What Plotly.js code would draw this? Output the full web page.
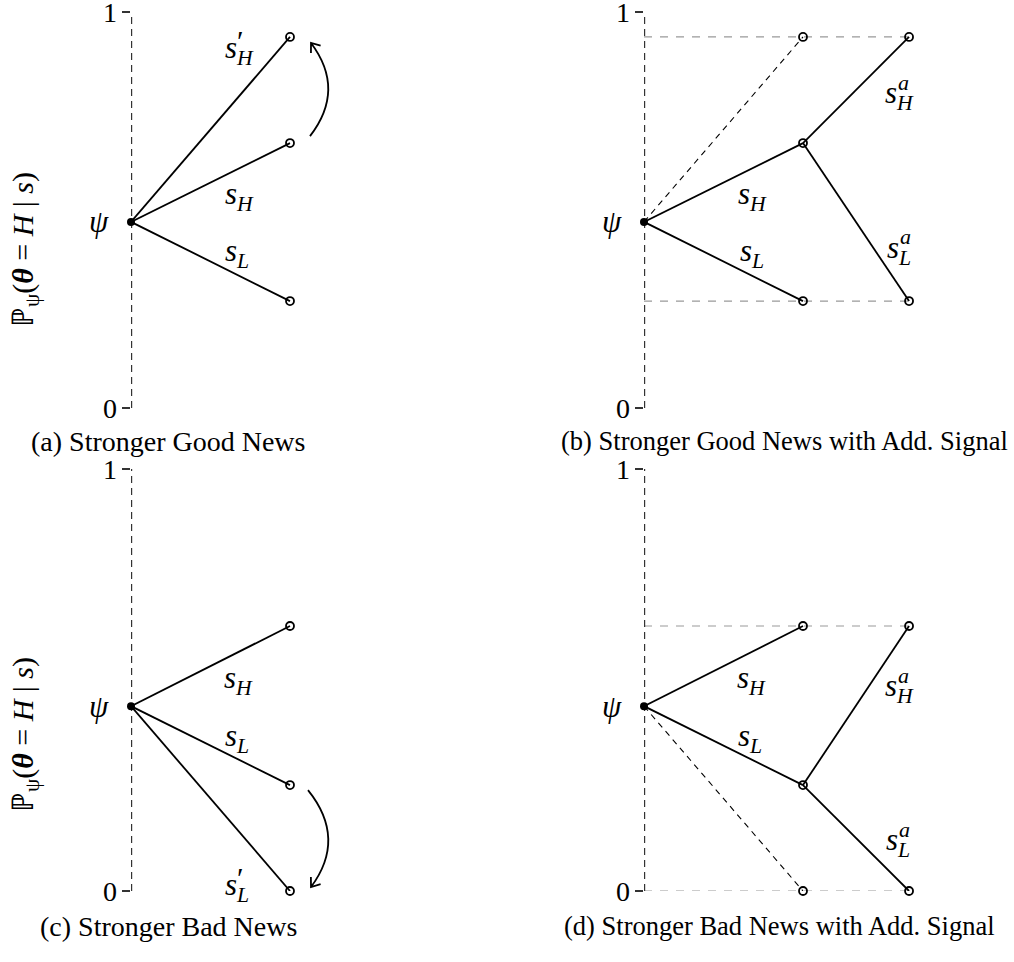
<!DOCTYPE html>
<html>
<head>
<meta charset="utf-8">
<script src="https://cdn.plot.ly/plotly-3.0.1.min.js"></script>
<style>html,body{margin:0;padding:0;background:#fff;}#chart{width:1014px;height:962px;}</style>
</head>
<body>
<div id="chart"></div>
<script>
// ---------- data ----------
const stages = [0, 1, 1.667];            // signal stages (prior, first signal, additional signal)
const priorTop = 0.47;                   // ψ in panels (a),(b)
const priorBottom = 0.438;               // ψ in panels (c),(d)
const aPosteriors = [0.937, 0.669, 0.27]; // s'_H, s_H, s_L
const bFirst = [0.669, 0.27];             // s_H, s_L
const bSecond = [0.937, 0.27];            // s^a_H, s^a_L after s_H
const bDashedTarget = 0.937;
const cPosteriors = [0.628, 0.251, 0];    // s_H, s_L, s'_L
const dFirst = [0.628, 0.251];            // s_H, s_L
const dSecond = [0.628, 0];               // s^a_H, s^a_L after s_L
const dDashedTarget = 0;
const tickValues = [0, 1];
const tickLabels = ['0', '1'];
const captions = ['(a) Stronger Good News', '(b) Stronger Good News with Add. Signal',
                  '(c) Stronger Bad News', '(d) Stronger Bad News with Add. Signal'];
const yTitle = 'ℙ<sub>ψ</sub>(<b><i>θ</i></b>&nbsp;=&nbsp;<i>H</i>&nbsp;|&nbsp;<i>s</i>)';

// ---------- layout helpers ----------
const W = 1014, H = 962;
const FONT = 'Liberation Serif, Times New Roman, serif';
const AXC = '#333';
const pxX = 159;                   // px per x unit
const pxYTop = 396, pxYBot = 422;  // px per y unit

const traces = [];
function line(ax, xs, ys, opts) {
  traces.push(Object.assign({
    type: 'scatter', mode: 'lines', x: xs, y: ys, xaxis: 'x' + ax, yaxis: 'y' + ax,
    line: {color: '#000', width: 1.8}, hoverinfo: 'skip', cliponaxis: false
  }, opts || {}));
}
function nodes(ax, xs, ys, filled) {
  traces.push({
    type: 'scatter', mode: 'markers', x: xs, y: ys, xaxis: 'x' + ax, yaxis: 'y' + ax,
    marker: filled ? {symbol: 'circle', size: 8, color: '#000'}
                   : {symbol: 'circle-open', size: 8, color: '#000', line: {width: 1.8, color: '#000'}},
    hoverinfo: 'skip', cliponaxis: false
  });
}
function axisLine(ax) {
  line(ax, [0, 0], [0, 1], {line: {color: AXC, width: 2.4, dash: '7px,5px'}});
}
function guide(ax, y, xEnd) {
  line(ax, [0, xEnd], [y, y], {line: {color: '#999', width: 1.2, dash: '8px,8px'}});
}
function dashedDiag(ax, y0, y1) {
  line(ax, [0, 1], [y0, y1], {line: {color: '#000', width: 1.1, dash: '6px,5px'}});
}

// ---------- panel (a) ----------
axisLine('');
aPosteriors.forEach(v => line('', [stages[0], stages[1]], [priorTop, v]));
nodes('', aPosteriors.map(() => stages[1]), aPosteriors, false);
nodes('', [stages[0]], [priorTop], true);

// ---------- panel (b) ----------
guide('2', bSecond[0], stages[2]);
guide('2', bSecond[1], stages[2]);
axisLine('2');
dashedDiag('2', priorTop, bDashedTarget);
bFirst.forEach(v => line('2', [stages[0], stages[1]], [priorTop, v]));
bSecond.forEach(v => line('2', [stages[1], stages[2]], [bFirst[0], v]));
nodes('2', [stages[1], stages[1], stages[1], stages[2], stages[2]],
           [bDashedTarget, bFirst[0], bFirst[1], bSecond[0], bSecond[1]], false);
nodes('2', [stages[0]], [priorTop], true);

// ---------- panel (c) ----------
axisLine('3');
cPosteriors.forEach(v => line('3', [stages[0], stages[1]], [priorBottom, v]));
nodes('3', cPosteriors.map(() => stages[1]), cPosteriors, false);
nodes('3', [stages[0]], [priorBottom], true);

// ---------- panel (d) ----------
guide('4', dSecond[0], stages[2]);
guide('4', dSecond[1], stages[2]);
axisLine('4');
dashedDiag('4', priorBottom, dDashedTarget);
dFirst.forEach(v => line('4', [stages[0], stages[1]], [priorBottom, v]));
dSecond.forEach(v => line('4', [stages[1], stages[2]], [dFirst[1], v]));
nodes('4', [stages[1], stages[1], stages[1], stages[2], stages[2]],
           [dFirst[0], dFirst[1], dDashedTarget, dSecond[0], dSecond[1]], false);
nodes('4', [stages[0]], [priorBottom], true);

// ---------- axes ----------
function xa(l) { return {domain: [l / W, (l + 2 * pxX) / W], range: [0, 2], showgrid: false, zeroline: false,
  showticklabels: false, ticks: '', showline: false, fixedrange: true}; }
function ya(top, bot) { return {domain: [1 - bot / H, 1 - top / H], range: [0, 1], showgrid: false, zeroline: false,
  showline: false, tickvals: tickValues, showticklabels: false, ticks: 'outside', ticklen: 8, tickwidth: 1.8,
  tickcolor: AXC, fixedrange: true}; }

const layout = {
  width: W, height: H, margin: {l: 0, r: 0, t: 0, b: 0},
  paper_bgcolor: '#fff', plot_bgcolor: 'rgba(0,0,0,0)', showlegend: false,
  xaxis: Object.assign(xa(131), {anchor: 'y'}),
  xaxis2: Object.assign(xa(644), {anchor: 'y2'}),
  xaxis3: Object.assign(xa(131), {anchor: 'y3'}),
  xaxis4: Object.assign(xa(644), {anchor: 'y4'}),
  yaxis: Object.assign(ya(12, 408), {anchor: 'x'}),
  yaxis2: Object.assign(ya(12, 408), {anchor: 'x2'}),
  yaxis3: Object.assign(ya(469, 891), {anchor: 'x3'}),
  yaxis4: Object.assign(ya(469, 891), {anchor: 'x4'}),
  annotations: [], shapes: []
};

// ---------- text ----------
function label(ax, x, y, sub, sup, supShift) {
  layout.annotations.push({xref: 'x' + ax, yref: 'y' + ax, x: x, y: y, xanchor: 'left', yanchor: 'middle',
    showarrow: false, text: '<i>s</i><sub><i>' + sub + '</i></sub>', font: {family: FONT, size: 31, color: '#000'}});
  if (sup) layout.annotations.push({xref: 'x' + ax, yref: 'y' + ax, x: x, y: y, xanchor: 'left', yanchor: 'middle',
    xshift: supShift[0], yshift: supShift[1], showarrow: false, text: sup, font: {family: FONT, size: sup === '′' ? 30 : 22, color: '#000'}});
}
function yLabel(ax, y, text, shift) {
  layout.annotations.push({xref: 'x' + ax, yref: 'y' + ax, x: 0, y: y, xanchor: 'center', yanchor: 'middle',
    xshift: shift, showarrow: false, text: text, font: {family: FONT, size: shift < -25 ? 31 : 28, color: '#000'}});
}
function paperText(px, py, text, angle, size) {
  layout.annotations.push({xref: 'paper', yref: 'paper', x: px / W, y: 1 - py / H, xanchor: 'center', yanchor: 'middle',
    showarrow: false, text: text, textangle: angle || 0, font: {family: FONT, size: size || 27, color: '#000'}});
}

['', '2', '3', '4'].forEach(ax => tickValues.forEach((v, i) => yLabel(ax, v, tickLabels[i], -21)));

const primeShift = [12, 9], aShift = [13, 13];
// panel a
label('', 0.58, 0.905, 'H', '′', primeShift);
label('', 0.58, 0.535, 'H');
label('', 0.58, 0.392, 'L');
yLabel('', priorTop, '<i>ψ</i>', -32);
// panel b
label('2', 0.58, 0.535, 'H');
label('2', 0.59, 0.392, 'L');
label('2', 1.5, 0.79, 'H', '<i>a</i>', aShift);
label('2', 1.515, 0.40, 'L', '<i>a</i>', aShift);
yLabel('2', priorTop, '<i>ψ</i>', -32);
// panel c
label('3', 0.575, 0.50, 'H');
label('3', 0.58, 0.362, 'L');
label('3', 0.58, 0.01, 'L', '′', primeShift);
yLabel('3', priorBottom, '<i>ψ</i>', -32);
// panel d
label('4', 0.57, 0.50, 'H');
label('4', 0.58, 0.362, 'L');
label('4', 1.505, 0.48, 'H', '<i>a</i>', aShift);
label('4', 1.51, 0.115, 'L', '<i>a</i>', aShift);
yLabel('4', priorBottom, '<i>ψ</i>', -32);

paperText(168, 441, captions[0], 0, 28);
paperText(784, 441, captions[1], 0, 26.5);
paperText(168, 926, captions[2], 0, 28);
paperText(779, 926, captions[3], 0, 26.5);
paperText(25, 250, yTitle, -90, 30);
paperText(25, 735, yTitle, -90, 30);

// ---------- curved arrows ----------
function curvedArrow(ax, pyUnit, fromY, toY, startOff, endOff, bulge) {
  const dx = p => p / pxX, dy = p => p / pyUnit;
  const x0 = stages[1] + dx(startOff[0]), y0 = fromY + dy(startOff[1]);
  const x1 = stages[1] + dx(endOff[0]), y1 = toY + dy(endOff[1]);
  const cx = stages[1] + dx(bulge), cy = (y0 + y1) / 2;
  let tx = (x1 - cx) * pxX, ty = (y1 - cy) * pyUnit;
  const n = Math.hypot(tx, ty); tx /= n; ty /= n;
  const L = 10, ang = 0.65;
  const b = s => {
    const c = Math.cos(s * ang), si = Math.sin(s * ang);
    const rx = -(tx * c - ty * si), ry = -(tx * si + ty * c);
    return [x1 + rx * L / pxX, y1 + ry * L / pyUnit];
  };
  const b1 = b(1), b2 = b(-1);
  layout.shapes.push({type: 'path', xref: 'x' + ax, yref: 'y' + ax,
    path: `M ${x0},${y0} Q ${cx},${cy} ${x1},${y1} M ${b1[0]},${b1[1]} L ${x1},${y1} L ${b2[0]},${b2[1]}`,
    line: {color: '#000', width: 1.8}});
}
curvedArrow('', pxYTop, aPosteriors[1], aPosteriors[0], [20, 7], [21, -6], 56);
curvedArrow('3', pxYBot, cPosteriors[1], cPosteriors[2], [18, -5], [21, 4], 57);

Plotly.newPlot('chart', traces, layout, {staticPlot: true, displayModeBar: false});
</script>
</body>
</html>
